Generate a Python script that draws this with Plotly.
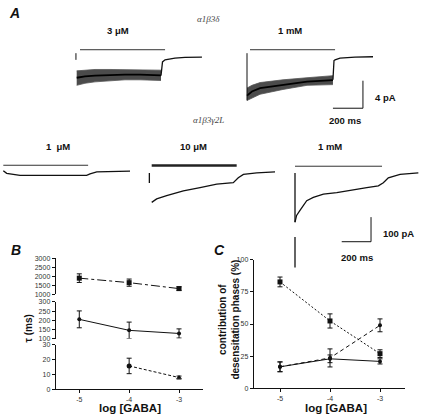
import plotly.graph_objects as go

W, H = 424, 418

# ---------------- data ----------------
# Panel B: time constants (ms) vs log[GABA]
log_gaba = [-5, -4, -3]
tau_slow = [1900, 1650, 1320]
tau_slow_err = [240, 200, 100]
tau_mid = [205, 145, 128]
tau_mid_err = [46, 45, 25]
log_gaba_fast = [-4, -3]
tau_fast = [15.6, 7.8]
tau_fast_err = [5.2, 1.0]

# Panel C: contribution of desensitisation phases (%)
contrib_slow = [82.7, 52.4, 27.0]
contrib_slow_err = [3.8, 5.5, 3.0]
contrib_fast = [16.8, 23.7, 49.0]
contrib_fast_err = [3.8, 7.0, 5.0]
contrib_mid = [16.8, 23.0, 21.0]
contrib_mid_err = [3.8, 3.0, 2.0]

# Panel A: current traces (time ms, current pA)
# alpha1beta3delta, 3 uM (noise envelope)
t_d3 = [-22, 33, 100, 200, 300, 400, 500, 540]
hi_d3 = [-2.0, -1.9, -1.8, -1.8, -1.8, -1.8, -1.9, -1.9]
lo_d3 = [-4.1, -3.8, -3.6, -3.4, -3.3, -3.3, -3.4, -3.4]
mid_d3 = [-3.0, -2.8, -2.7, -2.6, -2.55, -2.55, -2.6, -2.65]
t_d3_off = [540, 550, 567, 633, 700, 813]
i_d3_off = [-2.7, -0.7, -0.4, -0.15, -0.05, 0.0]
t_d3_on = [-27, -27]
i_d3_on = [0.57, -0.4]

# alpha1beta3delta, 1 mM
t_d1 = [-20, 13, 67, 220, 380, 553]
hi_d1 = [-4.5, -4.1, -3.7, -3.3, -3.0, -2.7]
lo_d1 = [-6.3, -6.0, -5.4, -4.7, -4.1, -4.0]
mid_d1 = [-5.6, -5.0, -4.5, -4.0, -3.55, -3.35]
t_d1_off = [553, 560, 567, 600, 700, 820]
i_d1_off = [-3.3, -0.5, -0.4, -0.15, 0.0, 0.05]
t_d1_on = [-20, -20]
i_d1_on = [0.57, -6.3]

# alpha1beta3gamma2L
t_g1u = [0, 23, 114, 319, 569, 592, 638, 865]
i_g1u = [0, -11, -19, -19, -19, -13, -5, -2]
t_g10u = [-16, -16, None, 0, 34, 102, 216, 330, 444, 557, 591, 626, 717, 842]
i_g10u = [0, -40, None, -119, -105, -92, -72, -59, -45, -39, -19, -5, 1, 5]
t_g1m = [0, 0, None, 0, 0, None, 0, 11, 34, 57, 80, 125, 194, 285, 376, 490, 569, 603, 637, 717, 842]
i_g1m = [0, -200, None, -260, -384, None, -199, -172, -152, -132, -112, -99, -85, -79, -69,
         -59, -52, -39, -19, -5, 1]

# application durations (ms) and scale bars
app_top = 567
app_bottom = [579, 580, 594]
scale_ms = 200
scale_pa_top = 4
scale_pa_bottom = 100

# ---------------- figure ----------------
fig = go.Figure()
BLK = "#111"
FONT = "Liberation Sans, Arial, sans-serif"


def pxx(x):
    return x / W


def pyy(y):
    return 1 - y / H


def trace_axes(n_x, n_y, xl, xr, yt, yb, t0, base, msk, pak):
    fig.layout["xaxis%d" % n_x] = dict(
        domain=[pxx(xl), pxx(xr)], range=[(xl - t0) * msk, (xr - t0) * msk],
        visible=False, anchor="y%d" % n_y, fixedrange=True)
    fig.layout["yaxis%d" % n_y] = dict(
        domain=[pyy(yb), pyy(yt)], range=[-(yb - base) * pak, -(yt - base) * pak],
        visible=False, anchor="x%d" % n_x, fixedrange=True)


def line(x, y, xa, ya, width=1.0, color=BLK, dash=None):
    fig.add_trace(go.Scatter(x=x, y=y, xaxis=xa, yaxis=ya, mode="lines",
                             line=dict(color=color, width=width, dash=dash),
                             showlegend=False, hoverinfo="skip", connectgaps=False))


def band(t, lo, hi, mid, xa, ya):
    fig.add_trace(go.Scatter(x=t, y=lo, xaxis=xa, yaxis=ya, mode="lines",
                             line=dict(color="#555", width=0.8), showlegend=False))
    fig.add_trace(go.Scatter(x=t, y=hi, xaxis=xa, yaxis=ya, mode="lines", fill="tonexty",
                             fillcolor="rgba(35,35,35,0.82)",
                             line=dict(color="#555", width=0.8), showlegend=False))
    line(t, mid, xa, ya, 1.8, "#000")


# trace axes
trace_axes(3, 5, 70, 215, 35, 92, 80, 54, 200 / 30, 4 / 28)
trace_axes(4, 6, 240, 380, 35, 112, 250, 54, 200 / 30, 4 / 28)
trace_axes(5, 7, 0, 140, 155, 190, 3.3, 169.5, 200 / 29.3, 100 / 25)
trace_axes(6, 8, 145, 285, 155, 212, 151.7, 172, 200 / 29.3, 100 / 25)
trace_axes(7, 9, 285, 424, 155, 285, 295, 172, 200 / 29.3, 100 / 25)

# top row traces
band(t_d3, lo_d3, hi_d3, mid_d3, "x3", "y5")
line(t_d3_off, i_d3_off, "x3", "y5", 1.3)
line(t_d3_on, i_d3_on, "x3", "y5", 1.0)
line([0, app_top], [1.07, 1.07], "x3", "y5", 1.0, "#333")

band(t_d1, lo_d1, hi_d1, mid_d1, "x4", "y6")
line(t_d1_off, i_d1_off, "x4", "y6", 1.3)
line(t_d1_on, i_d1_on, "x4", "y6", 1.0)
line([0, app_top], [1.07, 1.07], "x4", "y6", 1.0, "#333")
# scale bar top
line([753 - scale_ms, 753, 753], [-7.43, -7.43, -7.43 + scale_pa_top], "x4", "y6", 1.0)

# bottom row traces
line(t_g1u, i_g1u, "x5", "y7", 1.3)
line([0, app_bottom[0]], [22, 22], "x5", "y7", 1.0, "#333")

line(t_g10u, i_g10u, "x6", "y8", 1.3)
line([0, app_bottom[1]], [31, 31], "x6", "y8", 2.6, "#222")

line(t_g1m, i_g1m, "x7", "y9", 1.3)
line([0, app_bottom[2]], [28, 28], "x7", "y9", 1.0, "#333")
# scale bar bottom
line([519 - scale_ms, 519, 519], [-279, -279, -279 + scale_pa_bottom], "x7", "y9", 1.0)

# ---------- Panel B (broken y axis) ----------
axis_common = dict(showline=True, linecolor=BLK, linewidth=1, ticks="outside", ticklen=3,
                   tickwidth=1, tickcolor=BLK, showgrid=False, zeroline=False,
                   tickfont=dict(size=7, color="#333", family=FONT), fixedrange=True)
fig.layout.xaxis = dict(domain=[pxx(55.7), pxx(203.3)], range=[-5.473, -2.513], anchor="y3",
                        tickvals=log_gaba, ticktext=["-5", "-4", "-3"], **axis_common)
fig.layout.yaxis = dict(domain=[pyy(295.3), pyy(258.7)], range=[1000, 3000], anchor="x",
                        tickvals=[1000, 1500, 2000, 2500, 3000], **axis_common)
fig.layout.yaxis2 = dict(domain=[pyy(340.3), pyy(303)], range=[100, 300], anchor="x",
                         tickvals=[100, 150, 200, 250, 300], **axis_common)
fig.layout.yaxis3 = dict(domain=[pyy(391.7), pyy(346.3)], range=[0, 30], anchor="x",
                         tickvals=[0, 10, 20, 30], **axis_common)


def series(x, y, err, xa, ya, dash, symbol, msize=5):
    fig.add_trace(go.Scatter(
        x=x, y=y, xaxis=xa, yaxis=ya, mode="lines+markers",
        line=dict(color=BLK, width=1, dash=dash),
        marker=dict(color=BLK, size=msize, symbol=symbol),
        error_y=dict(type="data", array=err, color=BLK, thickness=1, width=2.5),
        showlegend=False, cliponaxis=False))


series(log_gaba, tau_slow, tau_slow_err, "x", "y", "dashdot", "square", 5)
series(log_gaba, tau_mid, tau_mid_err, "x", "y2", None, "circle", 4)
series(log_gaba_fast, tau_fast, tau_fast_err, "x", "y3", "3px,2px", ["circle", "triangle-up"], 5)

# ---------- Panel C ----------
fig.layout.xaxis2 = dict(domain=[pxx(253.7), pxx(405)], range=[-5.526, -2.5], anchor="y4",
                         tickvals=log_gaba, ticktext=["-5", "-4", "-3"], **axis_common)
fig.layout.yaxis4 = dict(domain=[pyy(391), pyy(260)], range=[0, 100], anchor="x2",
                         tickvals=[0, 25, 50, 75, 100], **axis_common)
series(log_gaba, contrib_mid, contrib_mid_err, "x2", "y4", None, "circle", 4)
series(log_gaba, contrib_fast, contrib_fast_err, "x2", "y4", "4px,3px", "circle", 4)
series(log_gaba, contrib_slow, contrib_slow_err, "x2", "y4", "2px,2px", "square", 5)

# ---------- text ----------
def txt(x, y, s, size=10, bold=True, italic=False, family=FONT, color=BLK, angle=0):
    if bold:
        s = "<b>%s</b>" % s
    if italic:
        s = "<i>%s</i>" % s
    fig.add_annotation(x=pxx(x), y=pyy(y), xref="paper", yref="paper", text=s,
                       showarrow=False, textangle=angle, xanchor="center", yanchor="middle",
                       font=dict(size=size, family=family, color=color))


txt(14, 9, "A", 14, True, True)
txt(16, 250, "B", 14, True, True)
txt(219, 250, "C", 14, True, True)
txt(208, 15, "α1β3δ", 9, False, True, "Liberation Serif, serif", "#444")
txt(208, 118, "α1β3γ2L", 9, False, True, "Liberation Serif, serif", "#444")
txt(118, 27, "3 μM", 9.5)
txt(290, 27, "1 mM", 9.5)
txt(385, 95, "4 pA", 9.5)
txt(345, 118, "200 ms", 9.5)
txt(58, 145, "1  μM", 9.5)
txt(193, 145, "10 μM", 9.5)
txt(330, 145, "1 mM", 9.5)
txt(398, 233, "100 pA", 9.5)
txt(357, 258, "200 ms", 9.5)
txt(28, 330, "τ (ms)", 10, True, False, FONT, BLK, -90)
txt(130, 410.5, "log [GABA]", 11.5)
txt(336, 410.5, "log [GABA]", 11.5)
txt(229, 321, "contribution of<br>desensitation phases (%)", 10, True, False, FONT, BLK, -90)

fig.update_layout(width=W, height=H, autosize=False,
                  margin=dict(l=0, r=0, t=0, b=0),
                  paper_bgcolor="white", plot_bgcolor="rgba(0,0,0,0)",
                  font=dict(family=FONT, color=BLK), showlegend=False)

fig.write_html("out.html", config={"displayModeBar": False},
               post_script="document.body.style.margin='0';document.body.style.overflow='hidden';")
